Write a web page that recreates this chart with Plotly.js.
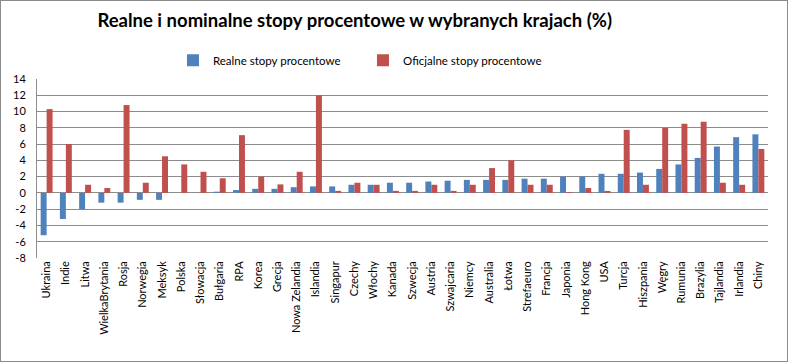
<!DOCTYPE html>
<html>
<head>
<meta charset="utf-8">
<script src="https://cdn.plot.ly/plotly-3.0.1.min.js"></script>
<style>
  html, body { margin: 0; padding: 0; background: #fff; }
  #chart { width: 786px; height: 360px; border: 1px solid #8a8a8a; }
</style>
</head>
<body>
<div id="chart"></div>
<script>
const countries = ["Ukraina","Indie","Litwa","WielkaBrytania","Rosja","Norwegia","Meksyk","Polska","Słowacja","Bułgaria","RPA","Korea","Grecja","Nowa Zelandia","Islandia","Singapur","Czechy","Włochy","Kanada","Szwecja","Austria","Szwajcaria","Niemcy","Australia","Łotwa","Strefaeuro","Francja","Japonia","Hong Kong","USA","Turcja","Hiszpania","Węgry","Rumunia","Brazylia","Tajlandia","Irlandia","Chiny"];
const realRates = [-5.2,-3.2,-2.0,-1.2,-1.2,-0.85,-0.85,0,0,0.15,0.35,0.5,0.5,0.7,0.8,0.8,1.0,1.0,1.25,1.25,1.4,1.5,1.6,1.6,1.6,1.75,1.75,2.0,2.0,2.35,2.35,2.5,2.95,3.5,4.3,5.7,6.85,7.2];
const officialRates = [10.3,6.0,1.0,0.6,10.8,1.25,4.5,3.5,2.6,1.8,7.1,2.0,1.05,2.6,12.0,0.25,1.25,1.0,0.25,0.25,1.0,0.25,1.0,3.05,4.0,1.0,1.0,0.1,0.6,0.25,7.75,1.0,8.0,8.5,8.75,1.25,1.0,5.4];
const seriesNames = ["Realne stopy procentowe","Oficjalne stopy procentowe"];
const yTicks = [-8,-6,-4,-2,0,2,4,6,8,10,12,14];

const font = '"Lato", "Open Sans", sans-serif';
const data = [
  { type: 'bar', x: countries, y: realRates, name: seriesNames[0], marker: { color: '#4F81BD' } },
  { type: 'bar', x: countries, y: officialRates, name: seriesNames[1], marker: { color: '#C0504D' } }
];
const layout = {
  width: 786, height: 360,
  margin: { l: 36, r: 19, t: 78, b: 103, pad: 0 },
  paper_bgcolor: '#fff', plot_bgcolor: '#fff',
  font: { family: font, size: 11, color: '#000' },
  title: {
    text: '<b>Realne i nominalne stopy procentowe w wybranych krajach (%)</b>',
    font: { family: font, size: 18.5, color: '#000' },
    x: 0.45, xanchor: 'center', xref: 'container',
    y: 0.945, yanchor: 'middle', yref: 'container'
  },
  barmode: 'group', bargap: 0.38, bargroupgap: 0,
  showlegend: true,
  legend: {
    orientation: 'h', x: 0.186, xanchor: 'left', y: 1.105, yanchor: 'middle',
    font: { family: font, size: 11.5, color: '#000' },
    entrywidth: 145, entrywidthmode: 'pixels',
    itemwidth: 30, traceorder: 'normal'
  },
  xaxis: {
    type: 'category', tickangle: -90, tickfont: { family: font, size: 11, color: '#000' },
    showgrid: false, showline: false, ticks: '', zeroline: false
  },
  yaxis: {
    range: [-8, 14], tickvals: yTicks, ticktext: yTicks.map(String),
    showgrid: true, gridcolor: '#8c8c8c', gridwidth: 1,
    zeroline: true, zerolinecolor: '#8c8c8c', zerolinewidth: 1,
    showline: true, linecolor: '#8c8c8c', linewidth: 1,
    ticks: '', ticklabelstandoff: 8,
    tickfont: { family: font, size: 11, color: '#000' }
  }
};
Plotly.newPlot('chart', data, layout, { displayModeBar: false, staticPlot: true });
</script>
</body>
</html>
